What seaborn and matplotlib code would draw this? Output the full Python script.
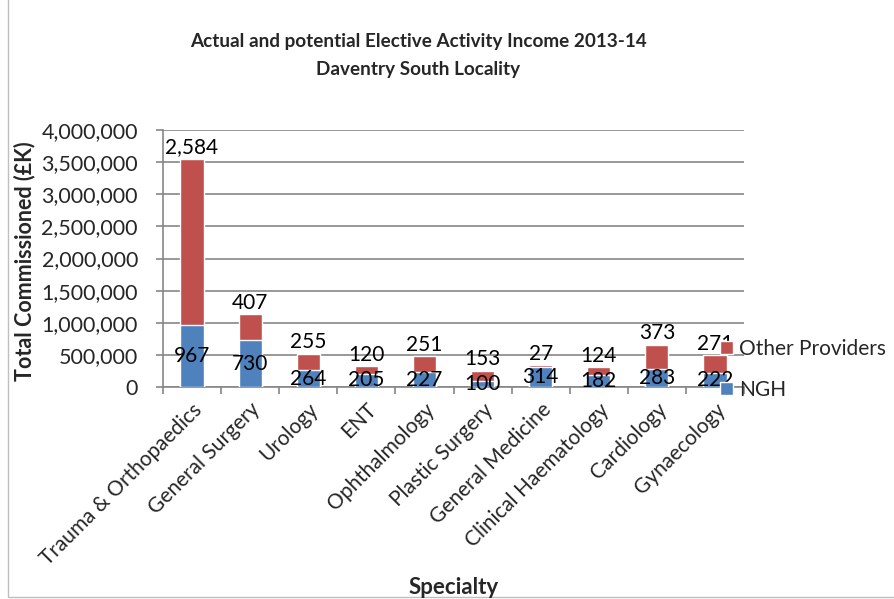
import matplotlib
matplotlib.use("Agg")
import matplotlib.pyplot as plt
import seaborn as sns
import pandas as pd
from matplotlib.patches import Patch, Rectangle

specialties = ["Trauma & Orthopaedics", "General Surgery", "Urology", "ENT",
               "Ophthalmology", "Plastic Surgery", "General Medicine",
               "Clinical Haematology", "Cardiology", "Gynaecology"]
ngh = [967, 730, 264, 205, 227, 100, 314, 182, 283, 222]
other = [2584, 407, 255, 120, 251, 153, 27, 124, 373, 271]
yticks = [0, 500000, 1000000, 1500000, 2000000, 2500000, 3000000, 3500000, 4000000]

BLUE = "#4F81BD"
RED = "#C0504D"
GRID = "#868686"

sns.set_theme(style="white")
plt.rcParams["font.family"] = ["Lato", "DejaVu Sans"]

df = pd.DataFrame({"Specialty": specialties,
                   "NGH": [v * 1000 for v in ngh],
                   "Other": [v * 1000 for v in other]})
df["Total"] = df["NGH"] + df["Other"]

fig = plt.figure(figsize=(8.94, 5.99), dpi=100)
ax = fig.add_axes([163 / 894, 1 - 387 / 599, (744 - 163) / 894, (387 - 130) / 599])

sns.barplot(data=df, x="Specialty", y="Total", color=RED, width=0.4,
            saturation=1, ax=ax, zorder=3)
sns.barplot(data=df, x="Specialty", y="NGH", color=BLUE, width=0.4,
            saturation=1, ax=ax, zorder=4)

ax.set_xlim(-0.5, len(specialties) - 0.5)
ax.set_ylim(0, 4000000)
ax.set_yticks(yticks)
ax.set_yticklabels([f"{v:,}" for v in yticks], fontsize=15.5)
ax.yaxis.grid(True, color=GRID, linewidth=1.2, zorder=0)
ax.set_axisbelow(True)

for s in ["top", "right"]:
    ax.spines[s].set_visible(False)
for s in ["left", "bottom"]:
    ax.spines[s].set_color(GRID)
    ax.spines[s].set_linewidth(1.2)

ax.tick_params(axis="y", which="major", left=True, length=5, color=GRID, width=1.2, pad=13)
ax.set_xticks(range(len(specialties)))
ax.set_xticklabels(specialties, rotation=45, ha="right", rotation_mode="anchor", fontsize=15)
ax.tick_params(axis="x", which="major", length=0, pad=9)
ax.set_xticks([i - 0.5 for i in range(len(specialties) + 1)], minor=True)
ax.tick_params(axis="x", which="minor", bottom=True, length=5, color=GRID, width=1.2)

ax.set_xlabel("")
ax.set_ylabel("")

# data labels
for i, (n, o) in enumerate(zip(ngh, other)):
    nv = n * 1000
    tv = (n + o) * 1000
    ax.annotate(f"{n:,}", (i, nv / 2), ha="center", va="center", fontsize=15,
                color="black", zorder=6)
    ax.annotate(f"{o:,}", (i, tv), xytext=(0, 1), textcoords="offset points",
                ha="center", va="bottom", fontsize=15, color="black", zorder=6)

fig.text(0.468, 1 - 42 / 599, "Actual and potential Elective Activity Income 2013-14",
         ha="center", va="center", fontsize=13.6, fontweight="bold")
fig.text(0.468, 1 - 70 / 599, "Daventry South Locality",
         ha="center", va="center", fontsize=13.6, fontweight="bold")
fig.text(25 / 894, 1 - 261 / 599, "Total Commissioned (£K)", rotation=90,
         ha="center", va="center", fontsize=15.5, fontweight="bold")
fig.text(454 / 894, 1 - 587 / 599, "Specialty", ha="center", va="center",
         fontsize=16, fontweight="bold")

handles = [Patch(facecolor=RED, label="Other Providers"),
           Patch(facecolor=BLUE, label="NGH")]
leg = fig.legend(handles=handles, loc="upper left",
                 bbox_to_anchor=(720 / 894, 1 - 339 / 599), frameon=False,
                 fontsize=15, handlelength=0.6, handleheight=0.6,
                 handletextpad=0.3, labelspacing=1.0, borderpad=0, borderaxespad=0)

fig.patches.append(Rectangle((8 / 894, 0.003), 1, 1, transform=fig.transFigure,
                             fill=False, edgecolor="#BFBFBF", linewidth=1))

fig.savefig("out.png", dpi=100)
